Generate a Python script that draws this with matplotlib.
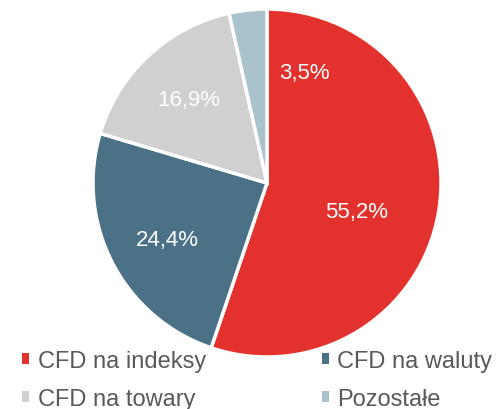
import numpy as np
import matplotlib.pyplot as plt
from matplotlib.patches import Patch

plt.rcParams['font.family'] = ['Liberation Sans', 'DejaVu Sans']

labels = ['CFD na indeksy', 'CFD na waluty', 'CFD na towary', 'Pozostałe']
values = [55.2, 24.4, 16.9, 3.5]
value_text = ['55,2%', '24,4%', '16,9%', '3,5%']
colors = ['#E3322D', '#4A7185', '#D0D0D0', '#A9C2CB']

fig = plt.figure(figsize=(4.97, 4.10), dpi=100)
ax = fig.add_axes([93 / 497, 52 / 410, 348 / 497, 348 / 410])

wedges, _ = ax.pie(values, colors=colors, startangle=90, counterclock=False,
                   radius=1, wedgeprops=dict(edgecolor='white', linewidth=2.5))
ax.set_xlim(-1, 1)
ax.set_ylim(-1, 1)
ax.set_aspect('equal')

# label placement (radius as fraction, extra angle shift in degrees)
lab_r = [0.54, 0.66, 0.66, 0.67]
lab_shift = [-8, 2, 0, -25]
for w, t, r, s in zip(wedges, value_text, lab_r, lab_shift):
    ang = np.deg2rad((w.theta1 + w.theta2) / 2 + s)
    ax.text(r * np.cos(ang), r * np.sin(ang), t, color='white', fontsize=16,
            ha='center', va='center')

# legend filled row by row
order = [0, 2, 1, 3]
handles = [Patch(facecolor=colors[i], edgecolor='none') for i in order]
leg = fig.legend(handles, [labels[i] for i in order], loc='upper left',
                 bbox_to_anchor=(0.002, 0.196), ncol=2, frameon=False,
                 fontsize=17, handlelength=0.3, handleheight=0.3,
                 handletextpad=0.35, columnspacing=4.9, labelspacing=0.68,
                 labelcolor='#595959')

fig.savefig('out.png', dpi=100)
